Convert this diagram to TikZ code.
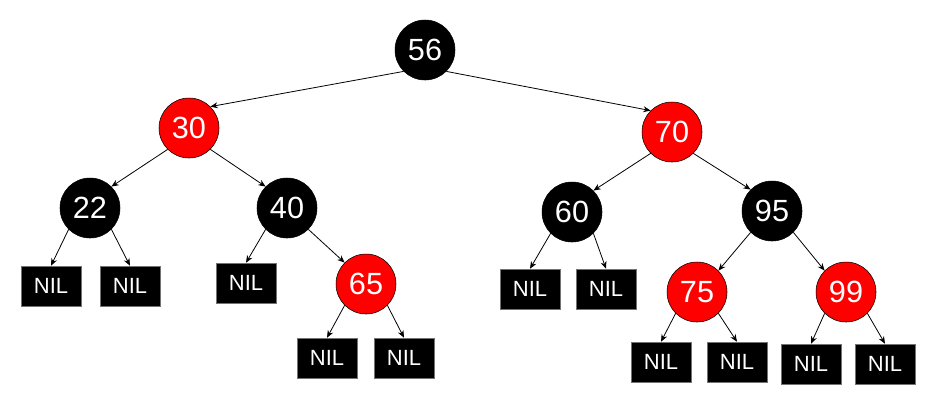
\documentclass[tikz,border=0pt]{standalone}
\usepackage{fontspec}
\setmainfont{Liberation Sans}
\usetikzlibrary{arrows.meta}

\begin{document}
\begin{tikzpicture}[
    x=0.75pt, y=-0.75pt,
    blacknode/.style={circle, draw=black, fill=black, text=white, minimum size=45pt, inner sep=0pt, font=\fontsize{23}{25}\selectfont},
    rednode/.style={blacknode, fill=red},
    nilbox/.style={draw=black!55, fill=black, text=white, minimum width=45pt, minimum height=30pt, inner sep=0pt, font=\fontsize{16.5}{18}\selectfont},
    arrow/.style={-{Stealth[length=5.5pt, width=4.5pt]}, line width=0.6pt}
]
\useasboundingbox (0,0) rectangle (934,405);

\node[blacknode] (n56) at (425,50) {56};
\node[rednode] (n30) at (189,128) {30};
\node[rednode] (n70) at (672,132) {70};
\node[blacknode] (n22) at (90,208) {22};
\node[blacknode] (n40) at (287,208) {40};
\node[blacknode] (n60) at (572,212) {60};
\node[blacknode] (n95) at (772,211) {95};
\node[rednode] (n65) at (366,284) {65};
\node[rednode] (n75) at (697,292) {75};
\node[rednode] (n99) at (846,292) {99};

\node[nilbox] (nil22l) at (51,286) {NIL};
\node[nilbox] (nil22r) at (130,286) {NIL};
\node[nilbox] (nil40l) at (246,283) {NIL};
\node[nilbox] (nil65l) at (327,358) {NIL};
\node[nilbox] (nil65r) at (404,358) {NIL};
\node[nilbox] (nil60l) at (530,289) {NIL};
\node[nilbox] (nil60r) at (606,289) {NIL};
\node[nilbox] (nil75l) at (661,362) {NIL};
\node[nilbox] (nil75r) at (737,362) {NIL};
\node[nilbox] (nil99l) at (811,364) {NIL};
\node[nilbox] (nil99r) at (885,364) {NIL};

\draw[arrow] (n56.south west) -- (n30.north east);
\draw[arrow] (n56.south east) -- (n70.north west);
\draw[arrow] (n30.south west) -- (n22.north east);
\draw[arrow] (n30.south east) -- (n40.north west);
\draw[arrow] (n70.south west) -- (n60.north east);
\draw[arrow] (n70.south east) -- (n95.north west);
\draw[arrow] (n22.south west) -- (nil22l.north);
\draw[arrow] (n22.south east) -- (nil22r.north);
\draw[arrow] (n40.south west) -- (nil40l.north);
\draw[arrow] (n40.south east) -- (n65.north west);
\draw[arrow] (n65.south west) -- (nil65l.north);
\draw[arrow] (n65.south east) -- (nil65r.north);
\draw[arrow] (n60.south west) -- (nil60l.north);
\draw[arrow] (n60.south east) -- (nil60r.north);
\draw[arrow] (n95.south west) -- (n75.north east);
\draw[arrow] (n95.south east) -- (n99.north west);
\draw[arrow] (n75.south west) -- (nil75l.north);
\draw[arrow] (n75.south east) -- (nil75r.north);
\draw[arrow] (n99.south west) -- (nil99l.north);
\draw[arrow] (n99.south east) -- (nil99r.north);
\end{tikzpicture}
\end{document}
